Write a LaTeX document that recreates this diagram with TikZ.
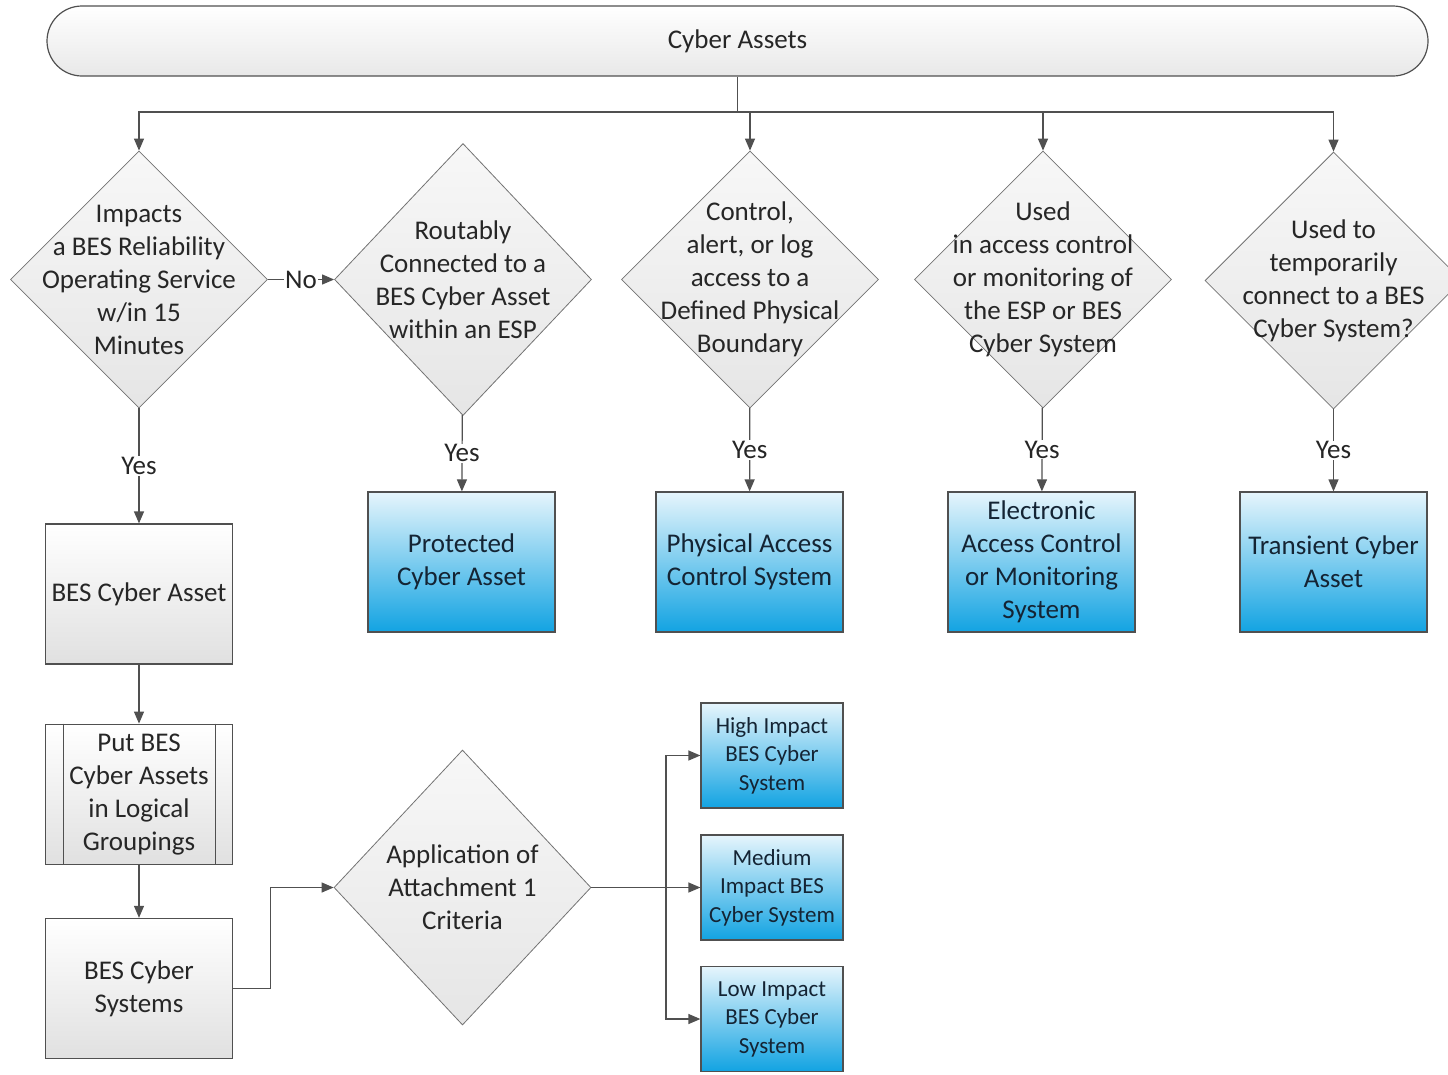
\documentclass[tikz,border=0pt]{standalone}
\usepackage{fontspec}
\setmainfont{Carlito}
\usepackage{tikz}
\usetikzlibrary{shapes.geometric, arrows.meta, positioning}

\definecolor{linegray}{HTML}{505050}
\definecolor{ink}{HTML}{262626}
\definecolor{navy}{HTML}{142434}
\definecolor{boxtop}{HTML}{E6F5FC}
\definecolor{boxbot}{HTML}{12A3E2}

\begin{document}
\begin{tikzpicture}[
    x=1pt, y=-1pt,
    every node/.style={font=\fontsize{27}{33}\selectfont, text=ink},
    line/.style={
        draw=linegray,
        line width=1.2pt
    },
    arrow/.style={
        line,
        -{Triangle[length=12pt,width=10pt]}
    },
    start/.style={
        rectangle,
        rounded corners=35pt,
        draw=linegray,
        line width=1.2pt,
        top color=white,
        bottom color=black!9,
        minimum width=1381pt,
        minimum height=70pt
    },
    decision/.style={
        diamond,
        draw=black!55,
        line width=0.8pt,
        top color=black!3,
        bottom color=black!10,
        minimum width=257pt,
        minimum height=257pt,
        inner sep=0pt
    },
    dtext/.style={align=center},
    process/.style={
        rectangle,
        draw=linegray,
        line width=1.2pt,
        top color=white,
        bottom color=black!12,
        minimum width=187pt,
        minimum height=140pt,
        align=center
    },
    result/.style={
        rectangle,
        draw=linegray,
        line width=1.2pt,
        top color=boxtop,
        bottom color=boxbot,
        minimum width=187pt,
        minimum height=140pt,
        align=center,
        text=navy
    },
    level/.style={
        result,
        minimum width=142pt,
        minimum height=105pt,
        font=\fontsize{23}{28.5}\selectfont
    },
    answer/.style={fill=white, inner sep=1pt}
]
\useasboundingbox (0,0) rectangle (1448,1074);

% top of the tree
\node (assets) [start] at (737.5,41) {Cyber Assets};
\coordinate (split) at (737.5,112);

% questions
\node (impact) [decision] at (139,279.5) {};
\node (impact text) [dtext] at (impact) {Impacts\\a BES Reliability\\Operating Service\\w/in 15\\Minutes};

\node (routable) [decision, minimum height=272pt] at (463,279.5) {};
\node (routable text) [dtext] at (routable) {Routably\\Connected to a\\BES Cyber Asset\\within an ESP};

\node (control) [decision] at (750,279.5) {};
\node (control text) [dtext] at (control) {Control,\\alert, or log\\access to a\\Defined Physical\\Boundary};

\node (access) [decision] at (1043,279.5) {};
\node (access text) [dtext] at (access) {Used\\in access control\\or monitoring of\\the ESP or BES\\Cyber System};

\node (transient) [decision] at (1333.5,280.5) {};
\node (transient text) [dtext] at (transient) {Used to\\temporarily\\connect to a BES\\Cyber System?};

% outcomes
\node (protected) [result] at (461.5,562) {Protected\\Cyber Asset};
\node (pacs) [result] at (749.5,562) {Physical Access\\Control System};
\node (eacms) [result] at (1041.5,562) {Electronic\\Access Control\\or Monitoring\\System};
\node (tca) [result] at (1333.5,562) {Transient Cyber\\Asset};

% left column
\node (bca) [process, below=115pt of impact] {BES Cyber Asset};
\node (group) [process, below=59pt of bca] {Put BES\\Cyber Assets\\in Logical\\Groupings};
\node (bcs) [process, below=53pt of group] {BES Cyber\\Systems};

\draw [line, line width=0.8pt] ([xshift=18pt]group.north west) -- ([xshift=18pt]group.south west);
\draw [line, line width=0.8pt] ([xshift=-18pt]group.north east) -- ([xshift=-18pt]group.south east);

% categorization
\node (apply) [decision, minimum height=275pt] at (462.5,887.5) {};
\node (apply text) [dtext] at (apply) {Application of\\Attachment 1\\Criteria};
\coordinate (fan) at (666,887.5);

\node (high) [level] at (772,755.5) {High Impact\\BES Cyber\\System};
\node (medium) [level] at (772,887.5) {Medium\\Impact BES\\Cyber System};
\node (low) [level] at (772,1019) {Low Impact\\BES Cyber\\System};

% connectors
\draw [line] (assets) -- (split);
\foreach \q in {impact, control, access, transient}
    \draw [arrow] (split) -| (\q.north);

\draw [arrow] (impact.east) -- node [answer] {No} (routable.west);
\draw [arrow] (impact) -- node [answer] {Yes} (bca);
\draw [arrow] (routable) -- node [answer] {Yes} (protected);
\draw [arrow] (control) -- node [answer] {Yes} (pacs);
\draw [arrow] (access) -- node [answer] {Yes} (eacms);
\draw [arrow] (transient) -- node [answer] {Yes} (tca);

\draw [arrow] (bca) -- (group);
\draw [arrow] (group) -- (bcs);
\draw [arrow] (bcs.east) -- ++(37,0) |- (apply.west);

\draw [line] (apply.east) -- (fan);
\draw [arrow] (fan) -- (medium);
\draw [arrow] (fan) |- (high);
\draw [arrow] (fan) |- (low);

\end{tikzpicture}
\end{document}
